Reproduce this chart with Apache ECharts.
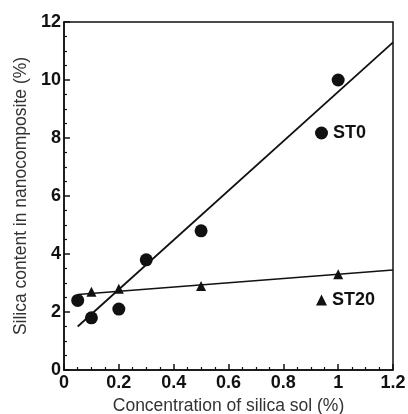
<!DOCTYPE html>
<html>
<head>
    <meta charset="utf-8" />
    <title>Silica content</title>
    <script src="https://cdn.jsdelivr.net/npm/echarts@6/dist/echarts.min.js"></script>
</head>
<body style="margin:0">
    <div id="main" style="width:408px;height:414px;"></div>
    <script type="text/javascript">
        // measured points
        var st0X = [0.05, 0.1, 0.2, 0.3, 0.5, 1.0];
        var st0Y = [2.4, 1.8, 2.1, 3.8, 4.8, 10.0];
        var st20X = [0.1, 0.2, 0.5, 1.0];
        var st20Y = [2.7, 2.8, 2.9, 3.3];
        // fitted lines (end points)
        var fit0X = [0.05, 1.2];
        var fit0Y = [1.5, 11.3];
        var fit20X = [0.05, 1.2];
        var fit20Y = [2.6, 3.45];

        function pairs(xs, ys) {
            return xs.map(function (x, i) { return [x, ys[i]]; });
        }

        var chart = echarts.init(document.getElementById('main'));
        var labelFont = { color: '#111', fontFamily: 'Liberation Sans', fontWeight: 'bold', fontSize: 18 };
        var nameFont = { color: '#333', fontFamily: 'Liberation Sans', fontSize: 17.5 };
        var option = {
            animation: false,
            grid: {
                left: 64, right: 15, top: 22, bottom: 44,
                outerBoundsMode: 'none',
                show: true, borderColor: '#111', borderWidth: 1.5
            },
            legend: [{
                data: [{ name: 'ST0', icon: 'circle' }],
                left: 310, top: 119,
                itemWidth: 13, itemHeight: 13, itemGap: 6,
                textStyle: labelFont
            }, {
                data: [{ name: 'ST20', icon: 'triangle' }],
                left: 311, top: 286,
                itemWidth: 11, itemHeight: 11,
                textStyle: labelFont
            }],
            xAxis: {
                type: 'value', min: 0, max: 1.2, interval: 0.2,
                name: 'Concentration of silica sol (%)',
                nameLocation: 'middle', nameGap: 27,
                nameTextStyle: nameFont,
                axisLine: { lineStyle: { color: '#111', width: 1.5 } },
                axisTick: { inside: true, length: 6, lineStyle: { color: '#111', width: 1.5 } },
                minorTick: { show: true, splitNumber: 4, length: 3, lineStyle: { color: '#111', width: 1.2 } },
                splitLine: { show: false },
                axisLabel: Object.assign({ margin: 4 }, labelFont)
            },
            yAxis: {
                type: 'value', min: 0, max: 12, interval: 2,
                name: 'Silica content in nanocomposite (%)',
                nameLocation: 'middle', nameGap: 29,
                nameTextStyle: nameFont,
                axisLine: { lineStyle: { color: '#111', width: 1.5 } },
                axisTick: { inside: true, length: 6, lineStyle: { color: '#111', width: 1.5 } },
                minorTick: { show: true, splitNumber: 4, length: 3, lineStyle: { color: '#111', width: 1.2 } },
                splitLine: { show: false },
                axisLabel: Object.assign({ margin: 3 }, labelFont)
            },
            series: [{
                name: 'ST0',
                type: 'scatter',
                symbol: 'circle',
                symbolSize: 13,
                itemStyle: { color: '#111', opacity: 1 },
                data: pairs(st0X, st0Y)
            }, {
                name: 'ST20',
                type: 'scatter',
                symbol: 'triangle',
                symbolSize: 10,
                itemStyle: { color: '#111', opacity: 1 },
                data: pairs(st20X, st20Y)
            }, {
                type: 'line',
                showSymbol: false,
                lineStyle: { color: '#111', width: 1.8 },
                data: pairs(fit0X, fit0Y)
            }, {
                type: 'line',
                showSymbol: false,
                lineStyle: { color: '#111', width: 1.5 },
                data: pairs(fit20X, fit20Y)
            }]
        };
        chart.setOption(option);
    </script>
</body>
</html>
